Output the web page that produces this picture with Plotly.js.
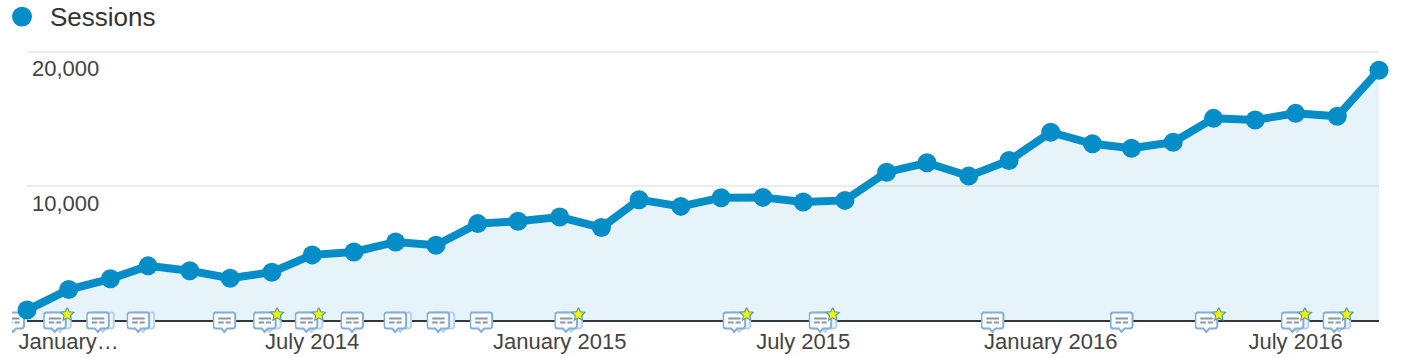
<!DOCTYPE html>
<html>
<head>
<meta charset="utf-8">
<script src="https://cdn.plot.ly/plotly-3.0.1.min.js"></script>
<style>html,body{margin:0;padding:0;background:#fff}#chart{width:1404px;height:358px}</style>
</head>
<body>
<div id="chart"></div>
<script>
const months = ["2013-12-01","2014-01-01","2014-02-01","2014-03-01","2014-04-01","2014-05-01","2014-06-01","2014-07-01","2014-08-01","2014-09-01","2014-10-01","2014-11-01","2014-12-01","2015-01-01","2015-02-01","2015-03-01","2015-04-01","2015-05-01","2015-06-01","2015-07-01","2015-08-01","2015-09-01","2015-10-01","2015-11-01","2015-12-01","2016-01-01","2016-02-01","2016-03-01","2016-04-01","2016-05-01","2016-06-01","2016-07-01","2016-08-01","2016-09-01"];
const sessions = [815,2335,3135,4100,3730,3185,3630,4915,5135,5875,5630,7240,7410,7730,6945,9020,8520,9165,9190,8840,8965,11065,11760,10770,11930,14030,13170,12840,13290,15065,14945,15435,15215,18640];
const tickDates = ["2014-01-01","2014-07-01","2015-01-01","2015-07-01","2016-01-01","2016-07-01"];
const tickLabels = ["January…","July 2014","January 2015","July 2015","January 2016","July 2016"];
const gridValues = [10000,20000];
const gridLabels = ["10,000","20,000"];
const seriesName = "Sessions";
const noteDates = ["2013-11-21","2013-12-22","2014-01-23","2014-02-22","2014-04-27","2014-05-27","2014-06-27","2014-07-31","2014-09-01","2014-10-03","2014-11-04","2015-01-06","2015-05-11","2015-07-14","2015-11-19","2016-02-23","2016-04-26","2016-06-29","2016-07-30"];
const noteStacked = [0,1,1,1,0,1,1,0,1,1,0,1,1,1,0,0,0,1,1];
const noteStarred = [0,1,0,0,0,1,1,0,0,0,0,1,1,1,0,0,1,1,1];

const BLUE = "#058dc7";
const M = {l:27, r:25, t:41.5, b:36.5, pad:0};
const W = 1404 - M.l - M.r, H = 358 - M.t - M.b;
const yTop = 20000 * H / 270;
const zeroPx = 358 - M.b;
const px = x => (x - M.l) / W;
const py = y => (zeroPx - y) / H;
const t0 = Date.parse(months[0]), t1 = Date.parse(months[months.length-1]);
const dateToPx = d => M.l + (Date.parse(d) - t0) / (t1 - t0) * W;

function bubble(x, stroke, fill){
  return `<path d="M${x+3} 5h17a2.5 2.5 0 0 1 2.5 2.5v11a2.5 2.5 0 0 1-2.5 2.5h-5.5l-3 3.5-3-3.5h-5.5a2.5 2.5 0 0 1-2.5-2.5v-11a2.5 2.5 0 0 1 2.5-2.5z" fill="${fill}" stroke="${stroke}" stroke-width="2"/>`;
}
function icon(stacked, star, crop){
  let s = "";
  if (stacked) s += bubble(5, "#b5d3ec", "#eef5fb");
  s += bubble(0, "#84aed6", "#f7fafd");
  s += `<path d="M5.5 11h12.5M5.5 15h5.5M13 15h5" stroke="#8f979e" stroke-width="2" fill="none"/>`;
  if (star) {
    s += `<path d="M24 0l2 4.2 4.6.6-3.4 3.2.9 4.6-4.1-2.3-4.1 2.3.9-4.6-3.4-3.2 4.6-.6z" fill="#f4f400" stroke="#4e9aa8" stroke-width="1.1"/>`;
  }
  const vx = crop, vw = 32 - crop;
  return "data:image/svg+xml;charset=utf-8," + encodeURIComponent(
    `<svg xmlns="http://www.w3.org/2000/svg" width="${vw}" height="27" viewBox="${vx} 0 ${vw} 27">${s}</svg>`);
}
const images = noteDates.map((d,i) => {
  const c = dateToPx(d);
  const crop = c - 12 < 12 ? 12 - (c - 12) : 0;
  const left = c - 12 + crop;
  const w = 32 - crop;
  return {
    source: icon(noteStacked[i], noteStarred[i], crop),
    xref:"paper", yref:"paper",
    x: px(left), y: py(308),
    sizex: w / W, sizey: 27 / H,
    xanchor:"left", yanchor:"top", sizing:"stretch",
    layer: crop > 0 ? "below" : "above"
  };
});

const traces = [{
  type:"scatter", mode:"lines+markers", name:seriesName, x:months, y:sessions,
  line:{color:BLUE, width:8}, marker:{color:BLUE, size:19},
  fill:"tozeroy", fillcolor:"rgba(5,141,199,0.1)",
  cliponaxis:false, showlegend:false, hoverinfo:"x+y"
}];
const fontFam = '"Liberation Sans", Arial, Helvetica, sans-serif';
const annotations = gridValues.map((v,i) => ({
  xref:"paper", yref:"y", x:px(30.5), y:v, yshift:-17, text:gridLabels[i],
  xanchor:"left", yanchor:"middle", showarrow:false, borderpad:0,
  font:{family:fontFam, size:22, color:"#444"}
}));
annotations.push({
  xref:"paper", yref:"paper", x:px(48.5), y:py(16), text:seriesName,
  xanchor:"left", yanchor:"middle", showarrow:false, borderpad:0,
  font:{family:fontFam, size:26, color:"#333"}
});
const layout = {
  width:1404, height:358, margin:M, paper_bgcolor:"#fff", plot_bgcolor:"#fff",
  showlegend:false,
  font:{family:fontFam, color:"#444"},
  xaxis:{type:"date", range:[months[0], months[months.length-1]], tickmode:"array",
    tickvals:tickDates, ticktext:tickLabels, tickangle:0, ticks:"", showgrid:false, zeroline:false,
    showline:false, ticklabelstandoff:5, tickfont:{family:fontFam, size:22, color:"#444"}},
  yaxis:{range:[0,yTop], tickmode:"array", tickvals:gridValues, showticklabels:false, ticks:"",
    showgrid:true, gridcolor:"#ececec", gridwidth:2, zeroline:true, zerolinecolor:"#333", zerolinewidth:2, showline:false},
  shapes:[{type:"circle", xref:"paper", yref:"paper", x0:px(12), x1:px(32), y0:py(6), y1:py(26),
    fillcolor:BLUE, line:{width:0}}],
  annotations, images
};
Plotly.newPlot("chart", traces, layout, {displayModeBar:false, staticPlot:true});
</script>
</body>
</html>
